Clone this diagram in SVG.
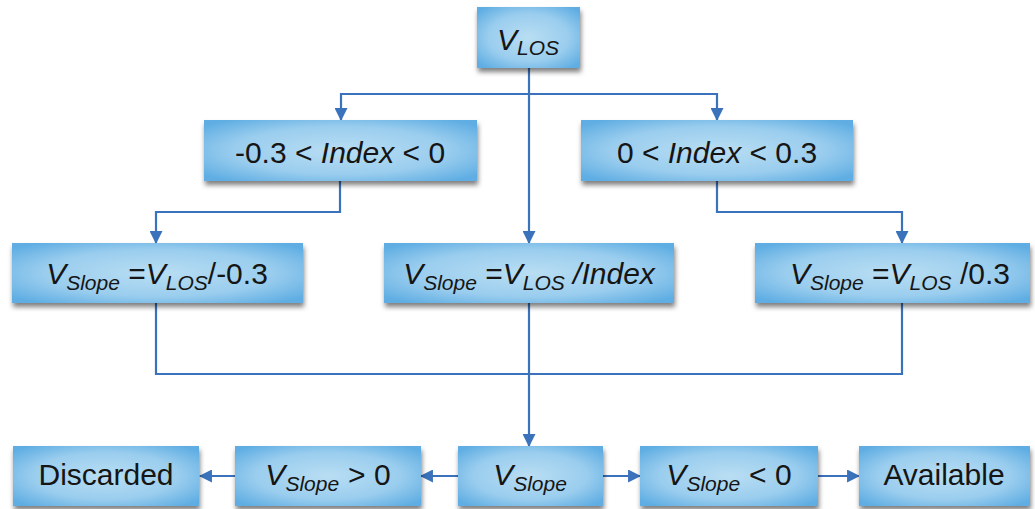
<svg xmlns="http://www.w3.org/2000/svg" width="1035" height="509" viewBox="0 0 1035 509">
  <defs>
    <radialGradient id="boxFill" cx="50%" cy="50%" r="65%">
      <stop offset="0%" stop-color="#b9def3"/>
      <stop offset="60%" stop-color="#9acdee"/>
      <stop offset="100%" stop-color="#5eade3"/>
    </radialGradient>
    <filter id="shadow" x="-10%" y="-20%" width="120%" height="150%">
      <feDropShadow dx="1" dy="4" stdDeviation="2.5" flood-color="#000" flood-opacity="0.5"/>
    </filter>
    <marker id="arrow" viewBox="0 0 12 12" refX="11" refY="6" markerWidth="13" markerHeight="13" markerUnits="userSpaceOnUse" orient="auto">
      <path d="M0,0 L12,6 L0,12 Z" fill="#3a72bb"/>
    </marker>
    <style>
      .box { fill: url(#boxFill); filter: url(#shadow); }
      .lbl { font-family: "Liberation Sans", Arial, sans-serif; font-size: 30px; fill: #151515; text-anchor: middle; }
      .it { font-style: italic; }
      .sub { font-size: 21px; font-style: italic; }
      .wire { fill: none; stroke: #3a72bb; stroke-width: 2.2; }
      .wire.arr { marker-end: url(#arrow); }
    </style>
  </defs>

  <rect width="1035" height="509" fill="#fff"/>

  <!-- connectors -->
  <g id="connectors">
    <line class="wire arr" x1="529" y1="68" x2="529" y2="243"/>
    <path class="wire arr" d="M529,94 H341 V120"/>
    <path class="wire arr" d="M529,94 H717 V120"/>
    <path class="wire arr" d="M340,181 V212 H156 V243"/>
    <path class="wire arr" d="M717,181 V212 H902 V243"/>
    <path class="wire" d="M156,303 V374 H902 V303"/>
    <line class="wire arr" x1="529" y1="303" x2="529" y2="446"/>
    <line class="wire arr" x1="458" y1="476" x2="421" y2="476"/>
    <line class="wire arr" x1="235" y1="476" x2="200" y2="476"/>
    <line class="wire arr" x1="603" y1="476" x2="640" y2="476"/>
    <line class="wire arr" x1="818" y1="476" x2="859" y2="476"/>
  </g>

  <!-- row 1 -->
  <g id="n-vlos">
    <rect class="box" x="477" y="7" width="103" height="61"/>
    <text class="lbl" x="528" y="50"><tspan class="it">V</tspan><tspan class="sub" dy="5">LOS</tspan></text>
  </g>

  <!-- row 2 -->
  <g id="n-index-neg">
    <rect class="box" x="204" y="120" width="273" height="61"/>
    <text class="lbl" x="340" y="163">-0.3 &lt; <tspan class="it">Index</tspan> &lt; 0</text>
  </g>
  <g id="n-index-pos">
    <rect class="box" x="581" y="120" width="272" height="61"/>
    <text class="lbl" x="717" y="163">0 &lt; <tspan class="it">Index</tspan> &lt; 0.3</text>
  </g>

  <!-- row 3 -->
  <g id="n-slope-neg">
    <rect class="box" x="12" y="243" width="291" height="60"/>
    <text class="lbl" x="157" y="284"><tspan class="it">V</tspan><tspan class="sub" dy="6">Slope</tspan><tspan dy="-6"> =</tspan><tspan class="it">V</tspan><tspan class="sub" dy="6">LOS</tspan><tspan dy="-6">/-0.3</tspan></text>
  </g>
  <g id="n-slope-index">
    <rect class="box" x="384" y="243" width="290" height="60"/>
    <text class="lbl" x="529" y="284"><tspan class="it">V</tspan><tspan class="sub" dy="6">Slope</tspan><tspan dy="-6"> =</tspan><tspan class="it">V</tspan><tspan class="sub" dy="6">LOS</tspan><tspan dy="-6" class="it"> /Index</tspan></text>
  </g>
  <g id="n-slope-pos">
    <rect class="box" x="755" y="243" width="275" height="60"/>
    <text class="lbl" x="900" y="284"><tspan class="it">V</tspan><tspan class="sub" dy="6">Slope</tspan><tspan dy="-6"> =</tspan><tspan class="it">V</tspan><tspan class="sub" dy="6">LOS</tspan><tspan dy="-6"> /0.3</tspan></text>
  </g>

  <!-- row 4 -->
  <g id="n-discarded">
    <rect class="box" x="13" y="446" width="186" height="60"/>
    <text class="lbl" x="106" y="485">Discarded</text>
  </g>
  <g id="n-slope-gt">
    <rect class="box" x="235" y="446" width="186" height="60"/>
    <text class="lbl" x="328" y="485"><tspan class="it">V</tspan><tspan class="sub" dy="6">Slope</tspan><tspan dy="-6" dx="9">&gt; 0</tspan></text>
  </g>
  <g id="n-slope">
    <rect class="box" x="458" y="446" width="145" height="60"/>
    <text class="lbl" x="530" y="485"><tspan class="it">V</tspan><tspan class="sub" dy="6">Slope</tspan></text>
  </g>
  <g id="n-slope-lt">
    <rect class="box" x="640" y="446" width="178" height="60"/>
    <text class="lbl" x="729" y="485"><tspan class="it">V</tspan><tspan class="sub" dy="6">Slope</tspan><tspan dy="-6" dx="9">&lt; 0</tspan></text>
  </g>
  <g id="n-available">
    <rect class="box" x="859" y="446" width="171" height="60"/>
    <text class="lbl" x="944" y="485">Available</text>
  </g>
</svg>
